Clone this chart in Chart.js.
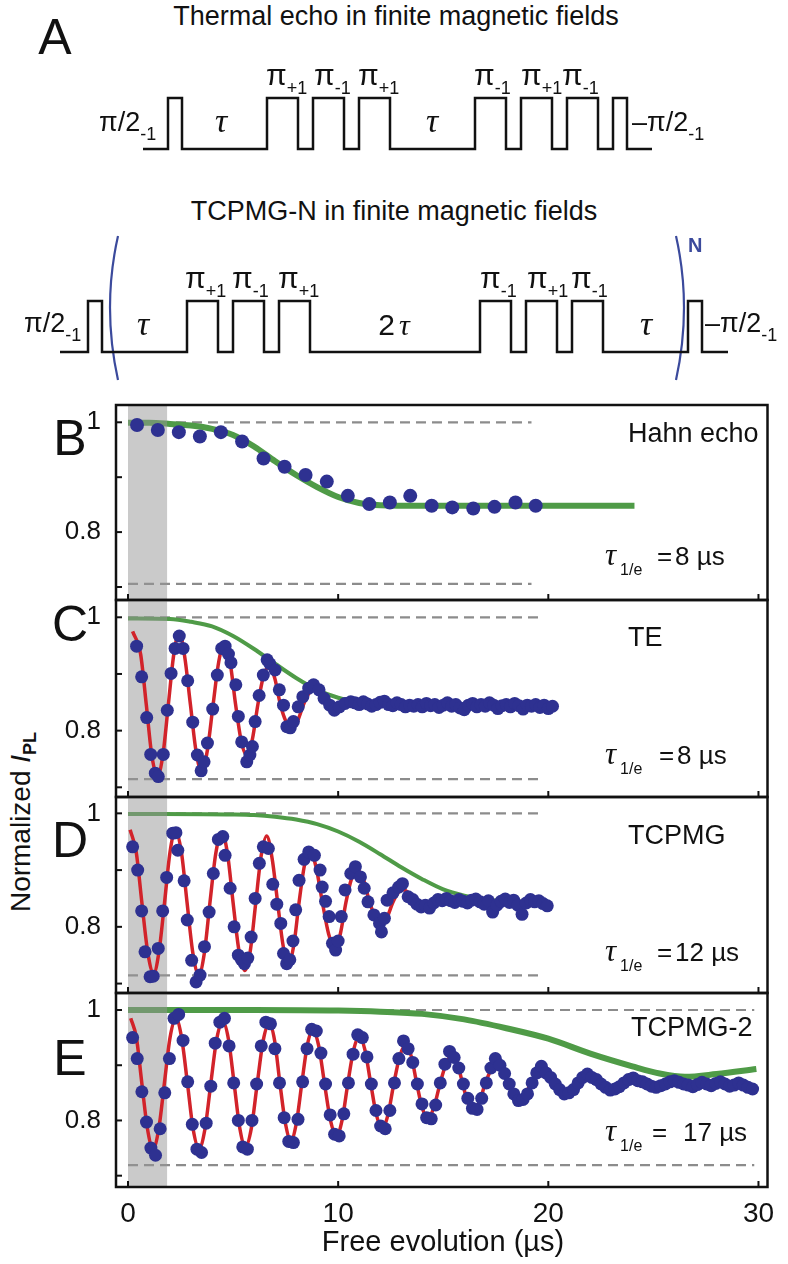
<!DOCTYPE html>
<html>
<head>
<meta charset="utf-8">
<script src="https://cdn.jsdelivr.net/npm/chart.js@4.4.1/dist/chart.umd.min.js"></script>
<style>
  body { margin: 0; background: #fff; }
  #fig { position: relative; width: 788px; height: 1264px; overflow: hidden; background: #fff;
         font-family: "Liberation Sans", Arial, sans-serif; color: #111; }
  #fig canvas { position: absolute; left: 0; }
  .lbl { position: absolute; white-space: nowrap; line-height: 1; }
  .lbl span, .lbl i, .lbl b { line-height: 0; }
  .lbl sub { font-size: 18px; line-height: 0; vertical-align: -9px; }
  .tau { font-family: "Liberation Serif", serif; font-style: italic; }
  #parens { position: absolute; left: 0; top: 0; }
  #ytitle { position: absolute; left: 21px; top: 822px; white-space: nowrap; line-height: 1; font-size: 28px;
            transform: translate(-50%, -50%) rotate(-90deg); }
  #ytitle sub { font-size: 18px; line-height: 0; vertical-align: -6px; font-weight: bold; }
</style>
</head>
<body>
<div id="fig">
  <svg id="parens" width="788" height="400">
    <path d="M118 236 Q102 307 118 380" fill="none" stroke="#3b4a9c" stroke-width="2.2"/>
    <path d="M676 236 Q692 307 676 380" fill="none" stroke="#3b4a9c" stroke-width="2.2"/>
  </svg>
  <div id="ytitle">Normalized <i>I</i><sub>PL</sub></div>
</div>
<script>
// ---------- pulse sequences (panel A), arbitrary time units ----------
const tauW = 85, piW = 31, halfW = 14, gapW = 15;
const thermalEchoSeq = [['lo', 25], ['hi', halfW], ['lo', tauW], ['hi', piW], ['lo', gapW], ['hi', piW], ['lo', gapW], ['hi', piW],
  ['lo', tauW], ['hi', piW], ['lo', gapW], ['hi', piW], ['lo', gapW], ['hi', piW], ['lo', gapW], ['hi', halfW], ['lo', 25]];
const tcpmgSeq = [['lo', 28], ['hi', halfW], ['lo', tauW], ['hi', piW], ['lo', gapW], ['hi', piW], ['lo', gapW], ['hi', piW],
  ['lo', 2 * tauW], ['hi', piW], ['lo', gapW], ['hi', piW], ['lo', gapW], ['hi', piW], ['lo', tauW], ['hi', halfW], ['lo', 26]];

// ---------- panel B: Hahn echo ----------
const hahnDots = [[0.43, 0.995], [1.42, 0.986], [2.42, 0.982], [3.42, 0.974], [4.42, 0.982], [5.43, 0.965], [6.45, 0.934],
  [7.45, 0.919], [8.45, 0.904], [9.46, 0.892], [10.46, 0.866], [11.48, 0.851], [12.46, 0.854], [13.43, 0.866],
  [14.45, 0.848], [15.43, 0.845], [16.43, 0.843], [17.44, 0.846], [18.44, 0.854], [19.4, 0.848]];
const hahnFit = [[0, 0.999], [1, 0.999], [2, 0.997], [3, 0.994], [4, 0.988], [5, 0.977], [6, 0.956], [7, 0.929], [8, 0.904],
  [9, 0.882], [10, 0.864], [11, 0.853], [12, 0.849], [14, 0.848], [24.1, 0.848]];

// ---------- panel C: TE ----------
const teDots = [[0.41, 0.949], [0.65, 0.895], [0.89, 0.823], [1.08, 0.758], [1.30, 0.725], [1.44, 0.719], [1.68, 0.758],
  [1.87, 0.836], [2.05, 0.901], [2.24, 0.945], [2.44, 0.967], [2.62, 0.945], [2.84, 0.888], [3.08, 0.815], [3.30, 0.757],
  [3.48, 0.729], [3.62, 0.745], [3.78, 0.778], [4.03, 0.838], [4.25, 0.898], [4.46, 0.945], [4.62, 0.949], [4.78, 0.935],
  [4.90, 0.920], [5.13, 0.881], [5.25, 0.825], [5.41, 0.780], [5.65, 0.745], [5.80, 0.757], [5.92, 0.772], [6.05, 0.816],
  [6.24, 0.862], [6.44, 0.898], [6.62, 0.925], [6.75, 0.918], [7.00, 0.907], [7.20, 0.872], [7.40, 0.845], [7.56, 0.807],
  [7.72, 0.805], [7.87, 0.816], [8.10, 0.842], [8.32, 0.860], [8.60, 0.875], [8.83, 0.881], [9.09, 0.872], [9.33, 0.857],
  [9.60, 0.845], [9.82, 0.836], [10.06, 0.842], [10.33, 0.848], [10.60, 0.851], [10.8, 0.849], [11.0, 0.846], [11.2, 0.851],
  [11.4, 0.847], [11.6, 0.843], [11.8, 0.846], [12.0, 0.850], [12.2, 0.852], [12.4, 0.846], [12.6, 0.844], [12.8, 0.849],
  [13.0, 0.846], [13.2, 0.842], [13.4, 0.845], [13.6, 0.843], [13.8, 0.846], [14.0, 0.842], [14.2, 0.848], [14.4, 0.844],
  [14.6, 0.846], [14.8, 0.841], [15.0, 0.845], [15.2, 0.849], [15.4, 0.843], [15.6, 0.846], [15.8, 0.840], [16.0, 0.837],
  [16.2, 0.845], [16.4, 0.848], [16.6, 0.842], [16.8, 0.846], [17.0, 0.843], [17.2, 0.849], [17.4, 0.845], [17.6, 0.839],
  [17.8, 0.844], [18.0, 0.846], [18.2, 0.842], [18.4, 0.848], [18.6, 0.844], [18.8, 0.838], [19.0, 0.845], [19.2, 0.843],
  [19.4, 0.846], [19.6, 0.841], [19.8, 0.845], [20.0, 0.839], [20.2, 0.843]];
const teOsc = [[0.22, 0.975], [0.60, 0.935], [0.87, 0.846], [1.13, 0.757], [1.40, 0.720], [1.66, 0.757], [1.92, 0.846],
  [2.18, 0.935], [2.44, 0.972], [2.70, 0.930], [2.97, 0.846], [3.24, 0.763], [3.51, 0.728], [3.78, 0.766], [4.05, 0.846],
  [4.32, 0.922], [4.59, 0.954], [4.86, 0.920], [5.12, 0.846], [5.38, 0.783], [5.65, 0.757], [5.92, 0.785], [6.18, 0.846],
  [6.44, 0.895], [6.71, 0.913], [6.98, 0.893], [7.25, 0.846], [7.52, 0.816], [7.82, 0.805], [8.08, 0.818], [8.35, 0.846],
  [8.61, 0.866], [8.87, 0.876], [9.13, 0.867], [9.40, 0.846], [9.67, 0.839], [9.93, 0.837], [10.2, 0.840], [10.45, 0.846],
  [10.8, 0.849], [11.2, 0.849], [12.0, 0.846], [14.0, 0.845], [20.2, 0.845]];
const teEnvelope = [[0, 0.998], [2, 0.997], [3, 0.992], [4, 0.984], [5, 0.967], [6, 0.944], [7, 0.918], [8, 0.893],
  [9, 0.872], [10, 0.858], [11, 0.850], [12, 0.846], [14, 0.845], [20, 0.845]];

// ---------- panel D: TCPMG ----------
const tcpmgDots = [[0.22, 0.941], [0.46, 0.900], [0.65, 0.828], [0.81, 0.756], [1.05, 0.712], [1.20, 0.713], [1.44, 0.762],
  [1.65, 0.828], [1.84, 0.887], [2.13, 0.965], [2.28, 0.966], [2.37, 0.935], [2.67, 0.881], [2.82, 0.812], [3.03, 0.741],
  [3.24, 0.703], [3.43, 0.715], [3.64, 0.765], [3.86, 0.826], [4.06, 0.894], [4.30, 0.954], [4.51, 0.959], [4.62, 0.926],
  [4.86, 0.868], [5.05, 0.800], [5.25, 0.750], [5.40, 0.742], [5.54, 0.735], [5.70, 0.745], [5.86, 0.782], [6.05, 0.850],
  [6.25, 0.912], [6.44, 0.941], [6.68, 0.938], [6.89, 0.875], [7.08, 0.840], [7.27, 0.806], [7.40, 0.753], [7.55, 0.735],
  [7.70, 0.742], [7.85, 0.775], [7.98, 0.830], [8.14, 0.882], [8.38, 0.919], [8.60, 0.932], [8.87, 0.926], [9.14, 0.900],
  [9.24, 0.870], [9.40, 0.845], [9.57, 0.818], [9.73, 0.771], [9.88, 0.759], [10.0, 0.775], [10.15, 0.818], [10.33, 0.865],
  [10.60, 0.894], [10.82, 0.906], [11.06, 0.888], [11.24, 0.868], [11.42, 0.844], [11.70, 0.821], [11.97, 0.806],
  [12.06, 0.791], [12.20, 0.815], [12.33, 0.847], [12.61, 0.860], [12.88, 0.870], [13.06, 0.876], [13.33, 0.853],
  [13.55, 0.848], [13.75, 0.840], [13.95, 0.835], [14.15, 0.838], [14.35, 0.833], [14.55, 0.842], [14.75, 0.848],
  [14.95, 0.846], [15.15, 0.850], [15.35, 0.846], [15.55, 0.843], [15.75, 0.848], [15.95, 0.845], [16.15, 0.842],
  [16.35, 0.847], [16.55, 0.849], [16.75, 0.844], [16.95, 0.840], [17.15, 0.846], [17.35, 0.826], [17.55, 0.838],
  [17.75, 0.845], [17.95, 0.849], [18.15, 0.843], [18.35, 0.847], [18.55, 0.838], [18.75, 0.822], [18.95, 0.842],
  [19.15, 0.848], [19.35, 0.844], [19.55, 0.846], [19.75, 0.841], [19.95, 0.837]];
const tcpmgOsc = [[0.10, 0.971], [0.39, 0.932], [0.66, 0.843], [0.94, 0.755], [1.22, 0.718], [1.47, 0.755], [1.74, 0.843],
  [2.00, 0.932], [2.26, 0.969], [2.54, 0.932], [2.81, 0.843], [3.09, 0.753], [3.37, 0.716], [3.63, 0.753], [3.90, 0.843],
  [4.18, 0.930], [4.46, 0.966], [4.73, 0.930], [5.00, 0.843], [5.28, 0.758], [5.56, 0.723], [5.82, 0.758], [6.08, 0.843],
  [6.34, 0.926], [6.60, 0.960], [6.86, 0.920], [7.12, 0.843], [7.38, 0.767], [7.63, 0.735], [7.89, 0.768], [8.14, 0.843],
  [8.40, 0.909], [8.65, 0.936], [8.95, 0.905], [9.25, 0.843], [9.55, 0.787], [9.84, 0.764], [10.1, 0.787], [10.37, 0.843],
  [10.63, 0.884], [10.9, 0.901], [11.2, 0.884], [11.5, 0.843], [11.78, 0.817], [12.06, 0.806], [12.33, 0.817], [12.6, 0.843],
  [12.83, 0.859], [13.06, 0.866], [13.35, 0.860], [13.65, 0.845], [13.95, 0.837], [14.25, 0.835], [14.55, 0.838],
  [14.85, 0.843], [15.5, 0.845], [17, 0.844], [20, 0.844]];
const tcpmgEnvelope = [[0, 0.999], [5, 0.998], [6, 0.997], [7, 0.994], [8, 0.989], [9, 0.981], [10, 0.968], [11, 0.950],
  [12, 0.928], [13, 0.905], [14, 0.884], [15, 0.866], [16, 0.855], [17, 0.848], [18, 0.845], [20, 0.844]];

// ---------- panel E: TCPMG-2 ----------
const tcpmg2Dots = [[0.22, 0.950], [0.44, 0.912], [0.66, 0.852], [0.88, 0.797], [1.09, 0.750], [1.31, 0.737], [1.53, 0.785],
  [1.75, 0.850], [1.97, 0.912], [2.19, 0.985], [2.41, 0.992], [2.62, 0.945], [2.84, 0.870], [3.06, 0.793], [3.28, 0.748],
  [3.50, 0.742], [3.72, 0.795], [3.94, 0.862], [4.15, 0.940], [4.37, 0.978], [4.59, 0.985], [4.81, 0.935], [5.03, 0.868],
  [5.25, 0.800], [5.46, 0.752], [5.68, 0.748], [5.90, 0.800], [6.12, 0.866], [6.34, 0.935], [6.56, 0.978], [6.78, 0.975],
  [6.99, 0.930], [7.21, 0.868], [7.43, 0.805], [7.65, 0.762], [7.87, 0.760], [8.09, 0.802], [8.31, 0.870], [8.52, 0.930],
  [8.74, 0.965], [8.96, 0.962], [9.18, 0.922], [9.40, 0.866], [9.62, 0.810], [9.83, 0.775], [10.05, 0.772], [10.27, 0.812],
  [10.49, 0.868], [10.71, 0.920], [10.93, 0.955], [11.15, 0.950], [11.37, 0.915], [11.58, 0.866], [11.80, 0.818],
  [12.02, 0.790], [12.24, 0.785], [12.46, 0.818], [12.68, 0.868], [12.89, 0.912], [13.11, 0.944], [13.33, 0.930],
  [13.55, 0.905], [13.77, 0.866], [13.99, 0.830], [14.21, 0.805], [14.43, 0.803], [14.64, 0.828], [14.86, 0.868],
  [15.08, 0.902], [15.30, 0.925], [15.52, 0.914], [15.74, 0.895], [15.96, 0.866], [16.17, 0.840], [16.39, 0.822],
  [16.61, 0.820], [16.83, 0.840], [17.05, 0.868], [17.27, 0.895], [17.48, 0.912], [17.70, 0.900], [17.92, 0.885],
  [18.14, 0.866], [18.36, 0.848], [18.58, 0.836], [18.80, 0.838], [19.01, 0.848], [19.23, 0.868], [19.45, 0.886],
  [19.67, 0.898], [19.89, 0.886], [20.11, 0.878], [20.33, 0.866], [20.54, 0.856], [20.76, 0.848], [20.98, 0.850],
  [21.20, 0.856], [21.42, 0.868], [21.64, 0.878], [21.86, 0.884], [22.07, 0.878], [22.29, 0.874], [22.51, 0.866],
  [22.73, 0.860], [22.95, 0.855], [23.17, 0.857], [23.38, 0.861], [23.60, 0.868], [23.82, 0.874], [24.04, 0.877],
  [24.26, 0.872], [24.48, 0.870], [24.70, 0.866], [24.91, 0.862], [25.13, 0.860], [25.35, 0.863], [25.57, 0.866],
  [25.79, 0.870], [26.00, 0.872], [26.22, 0.869], [26.44, 0.866], [26.66, 0.864], [26.88, 0.861], [27.09, 0.865],
  [27.31, 0.869], [27.53, 0.866], [27.75, 0.863], [27.97, 0.867], [28.19, 0.870], [28.41, 0.866], [28.63, 0.862],
  [28.84, 0.864], [29.06, 0.868], [29.28, 0.864], [29.50, 0.860], [29.72, 0.857]];
const tcpmg2Osc = [[0.13, 0.985], [0.40, 0.950], [0.66, 0.867], [0.93, 0.784], [1.19, 0.749], [1.46, 0.784], [1.73, 0.867],
  [2.00, 0.950], [2.28, 0.984], [2.55, 0.950], [2.83, 0.867], [3.10, 0.784], [3.38, 0.749], [3.66, 0.784], [3.94, 0.867],
  [4.22, 0.947], [4.51, 0.979], [4.78, 0.947], [5.05, 0.867], [5.32, 0.786], [5.59, 0.752], [5.87, 0.786], [6.15, 0.867],
  [6.43, 0.944], [6.72, 0.976], [6.98, 0.944], [7.23, 0.867], [7.49, 0.795], [7.75, 0.764], [8.01, 0.795], [8.27, 0.867],
  [8.53, 0.936], [8.79, 0.964], [9.07, 0.936], [9.35, 0.867], [9.63, 0.801], [9.92, 0.772], [10.19, 0.801], [10.46, 0.867],
  [10.73, 0.927], [11.01, 0.952], [11.28, 0.927], [11.55, 0.867], [11.82, 0.810], [12.09, 0.786], [12.37, 0.810],
  [12.65, 0.867], [12.93, 0.916], [13.22, 0.937], [13.48, 0.916], [13.74, 0.867], [14.0, 0.823], [14.26, 0.804],
  [14.55, 0.823], [14.85, 0.867], [15.14, 0.903], [15.43, 0.918], [15.68, 0.903], [15.92, 0.867], [16.17, 0.833],
  [16.42, 0.819], [16.71, 0.833], [17.0, 0.867], [17.28, 0.892], [17.56, 0.903], [17.82, 0.892], [18.08, 0.867],
  [18.34, 0.844], [18.6, 0.834], [18.88, 0.844], [19.16, 0.867], [19.45, 0.884], [19.73, 0.891], [20.0, 0.884],
  [20.3, 0.867], [20.58, 0.854], [20.87, 0.849], [21.13, 0.854], [21.4, 0.867], [21.65, 0.875], [21.9, 0.879],
  [22.17, 0.875], [22.45, 0.867], [22.74, 0.859], [23.03, 0.855], [23.29, 0.859], [23.55, 0.867], [23.81, 0.871],
  [24.07, 0.873], [24.4, 0.870], [24.7, 0.866], [25.0, 0.862], [25.3, 0.861], [25.9, 0.864], [26.5, 0.867],
  [27.5, 0.866], [28.5, 0.864], [29.9, 0.862]];
const tcpmg2Envelope = [[0, 1.0], [6, 1.0], [10, 0.999], [12, 0.997], [14, 0.993], [16, 0.983], [18, 0.967], [20, 0.948],
  [22, 0.921], [24, 0.898], [25.3, 0.885], [26.5, 0.879], [28, 0.884], [29.9, 0.893]];

// reference levels and axes
const refHigh = [1, 1, 1, 1];
const refLow = [0.7055, 0.7146, 0.7146, 0.719];
const refEnd = [19.2, 19.7, 19.7, 29.8];
const shadeEnd = 1.87;
const xTicks = [0, 10, 20, 30];
const yTicks = [0.7, 0.8, 0.9, 1];
const yTickText = { '1': '1', '0.8': '0.8' };

const FONT = '"Liberation Sans", Arial, sans-serif';
const NAVY = '#2e3191';
const RED = '#d2232a';
const GREEN = '#4f9b47';
const DASH = '#8c8c8c';
const SHADE = 'rgba(150,150,150,0.5)';

Chart.defaults.font.family = FONT;
const fig = document.getElementById('fig');
const toPts = arr => arr.map(([x, y]) => ({ x, y }));

function addCanvas(top, height) {
    const cv = document.createElement('canvas');
    cv.width = 788;
    cv.height = height;
    cv.style.top = top + 'px';
    fig.appendChild(cv);
    return cv;
}

// text overlay, positioned on its baseline
function addText(html, x, baseline, size, align, extra) {
    const d = document.createElement('div');
    d.className = 'lbl';
    d.innerHTML = html;
    d.style.fontSize = size + 'px';
    d.style.left = x + 'px';
    d.style.top = (baseline - 0.8465 * size) + 'px';
    if (align === 'center') d.style.transform = 'translateX(-50%)';
    if (align === 'right') d.style.transform = 'translateX(-100%)';
    if (extra) Object.assign(d.style, extra);
    fig.appendChild(d);
    return d;
}

// ---------- panel A ----------
function pulsePoints(seq) {
    const pts = [];
    let t = 0;
    seq.forEach(([lvl, d]) => {
        const y = lvl === 'hi' ? 1 : 0;
        pts.push({ x: t, y }, { x: t + d, y });
        t += d;
    });
    return { pts, total: t };
}

function makeSequence(seq, highY, left) {
    const { pts, total } = pulsePoints(seq);
    const pad = 10;
    const cv = addCanvas(highY - pad, 51 + 2 * pad);
    new Chart(cv, {
        type: 'line',
        data: { datasets: [{ data: pts, borderColor: '#111', borderWidth: 2.5, pointRadius: 0, tension: 0, clip: false }] },
        options: {
            responsive: false, animation: false, devicePixelRatio: 1, events: [],
            layout: { padding: { left: left, right: 788 - left - total, top: pad, bottom: pad } },
            plugins: { legend: { display: false }, tooltip: { enabled: false } },
            scales: {
                x: { type: 'linear', display: false, min: 0, max: total },
                y: { type: 'linear', display: false, min: 0, max: 1 }
            }
        }
    });
}

makeSequence(thermalEchoSeq, 98, 143);
makeSequence(tcpmgSeq, 301, 60);

addText('A', 55, 54, 50, 'center');
addText('Thermal echo in finite magnetic fields', 396, 26, 27, 'center');
addText('TCPMG-N in finite magnetic fields', 394, 221, 27, 'center');

const piLbl = s => '<span>π</span><sub>' + s + '</sub>';
[[266, '+1'], [314, '-1'], [358, '+1'], [474, '-1'], [521, '+1'], [562, '-1']].forEach(([x, s]) => addText(piLbl(s), x, 85, 30));
[[185, '+1'], [232, '-1'], [278, '+1'], [480, '-1'], [527, '+1'], [571, '-1']].forEach(([x, s]) => addText(piLbl(s), x, 288, 30));
addText('π/2<sub>-1</sub>', 99, 132, 27);
addText('–π/2<sub>-1</sub>', 632, 132, 27);
addText('π/2<sub>-1</sub>', 24, 333, 27);
addText('–π/2<sub>-1</sub>', 705, 333, 27);
addText('<span class="tau">τ</span>', 221, 132, 34, 'center');
addText('<span class="tau">τ</span>', 432, 132, 34, 'center');
addText('<span class="tau">τ</span>', 143, 335, 34, 'center');
addText('2<span class="tau" style="margin-left:4px">τ</span>', 394, 335, 30, 'center');
addText('<span class="tau">τ</span>', 646, 335, 34, 'center');
addText('N', 688, 252, 20, 'left', { fontWeight: 'bold', color: '#3b4a9c' });

// ---------- panels B-E ----------
const xMin = -0.571, xMax = 30.43;
const panels = [
    { top: 405, bottom: 600, yMin: 0.6763, yMax: 1.0315, dots: hahnDots, fit: hahnFit, osc: null, fitW: 6, dotR: 7 },
    { top: 600, bottom: 797, yMin: 0.6829, yMax: 1.0305, dots: teDots, fit: teEnvelope, osc: teOsc, fitW: 4, dotR: 6.5 },
    { top: 797, bottom: 993, yMin: 0.6834, yMax: 1.0288, dots: tcpmgDots, fit: tcpmgEnvelope, osc: tcpmgOsc, fitW: 4, dotR: 6.5 },
    { top: 993, bottom: 1187, yMin: 0.6795, yMax: 1.0308, dots: tcpmg2Dots, fit: tcpmg2Envelope, osc: tcpmg2Osc, fitW: 6, dotR: 6.5, xLabels: true }
];

const framePlugin = {
    id: 'frame',
    afterDraw(chart) {
        const { ctx, chartArea: a, scales } = chart;
        ctx.save();
        ctx.strokeStyle = '#111';
        ctx.lineWidth = 2;
        yTicks.forEach(v => {
            const y = scales.y.getPixelForValue(v);
            ctx.beginPath(); ctx.moveTo(a.left, y); ctx.lineTo(a.left + 6, y); ctx.stroke();
        });
        xTicks.forEach(v => {
            const x = scales.x.getPixelForValue(v);
            ctx.beginPath(); ctx.moveTo(x, a.bottom); ctx.lineTo(x, a.bottom - 6); ctx.stroke();
        });
        ctx.lineWidth = 2.5;
        ctx.strokeRect(a.left, a.top, a.right - a.left, a.bottom - a.top);
        ctx.restore();
    }
};

panels.forEach((p, i) => {
    // generous padding so the y tick label overflow never moves the plot area
    const padTop = 40;
    const axisH = p.xLabels ? 80 : 0;
    const padBottom = p.xLabels ? 0 : 40;
    const cv = addCanvas(p.top - padTop, padTop + (p.bottom - p.top) + padBottom + axisH);

    const datasets = [{ data: toPts(p.dots), showLine: false, pointRadius: p.dotR, pointBackgroundColor: NAVY,
        pointBorderWidth: 0, order: 1 }];
    if (p.osc) {
        datasets.push({ data: toPts(p.osc), borderColor: RED, borderWidth: 3.5, pointRadius: 0,
            cubicInterpolationMode: 'monotone', order: 2 });
    }
    datasets.push({ data: [{ x: 0, y: p.yMax }, { x: shadeEnd, y: p.yMax }], fill: 'start', backgroundColor: SHADE,
        borderWidth: 0, pointRadius: 0, order: 3 });
    datasets.push({ data: toPts(p.fit), borderColor: GREEN, borderWidth: p.fitW, pointRadius: 0,
        cubicInterpolationMode: 'monotone', order: 4 });
    [refHigh[i], refLow[i]].forEach(level => {
        datasets.push({ data: [{ x: 0, y: level }, { x: refEnd[i], y: level }], borderColor: DASH, borderWidth: 2.2,
            borderDash: [10, 6], pointRadius: 0, order: 5 });
    });

    new Chart(cv, {
        type: 'line',
        data: { datasets },
        options: {
            responsive: false, animation: false, devicePixelRatio: 1, events: [],
            layout: { padding: { left: 0, right: 20.5, top: padTop, bottom: padBottom } },
            plugins: { legend: { display: false }, tooltip: { enabled: false } },
            scales: {
                x: {
                    type: 'linear', min: xMin, max: xMax, display: !!p.xLabels,
                    afterBuildTicks: s => { s.ticks = xTicks.map(v => ({ value: v })); },
                    afterFit: s => { s.height = axisH; },
                    grid: { display: false, drawTicks: false }, border: { display: false },
                    ticks: { autoSkip: false, maxRotation: 0, padding: 10, color: '#111', font: { size: 28 },
                        callback: v => String(v) }
                },
                y: {
                    type: 'linear', min: p.yMin, max: p.yMax,
                    afterFit: s => { s.width = 116; },
                    afterBuildTicks: s => { s.ticks = yTicks.map(v => ({ value: v })); },
                    grid: { display: false, drawTicks: false }, border: { display: false },
                    ticks: { padding: 15, color: '#111', font: { size: 26 }, callback: v => yTickText[String(v)] || '' }
                }
            }
        },
        plugins: [framePlugin]
    });
});

// panel letters and in-panel text
addText('B', 70, 455, 50, 'center');
addText('C', 70, 641, 50, 'center');
addText('D', 70, 857, 50, 'center');
addText('E', 70, 1075, 50, 'center');

addText('Hahn echo', 628, 443, 27);
addText('TE', 628, 647, 27);
addText('TCPMG', 628, 845, 27);
addText('TCPMG-2', 631, 1037, 27);

// tau_1/e rows: symbol, "=", value
const tauSym = '<span class="tau" style="font-size:31px">τ</span><sub style="font-size:16px;vertical-align:-10px;margin-left:4px">1/e</sub>';
[[565, 657, 675, '8 µs'], [764, 659, 677, '8 µs'], [961, 657, 675, '12 µs'], [1141, 652, 683, '17 µs']].forEach(([base, xEq, xVal, val]) => {
    addText(tauSym, 605, base, 26);
    addText('=', xEq, base, 26);
    addText(val, xVal, base, 26);
});

addText('Free evolution (µs)', 443, 1252, 29, 'center');
</script>
</body>
</html>
